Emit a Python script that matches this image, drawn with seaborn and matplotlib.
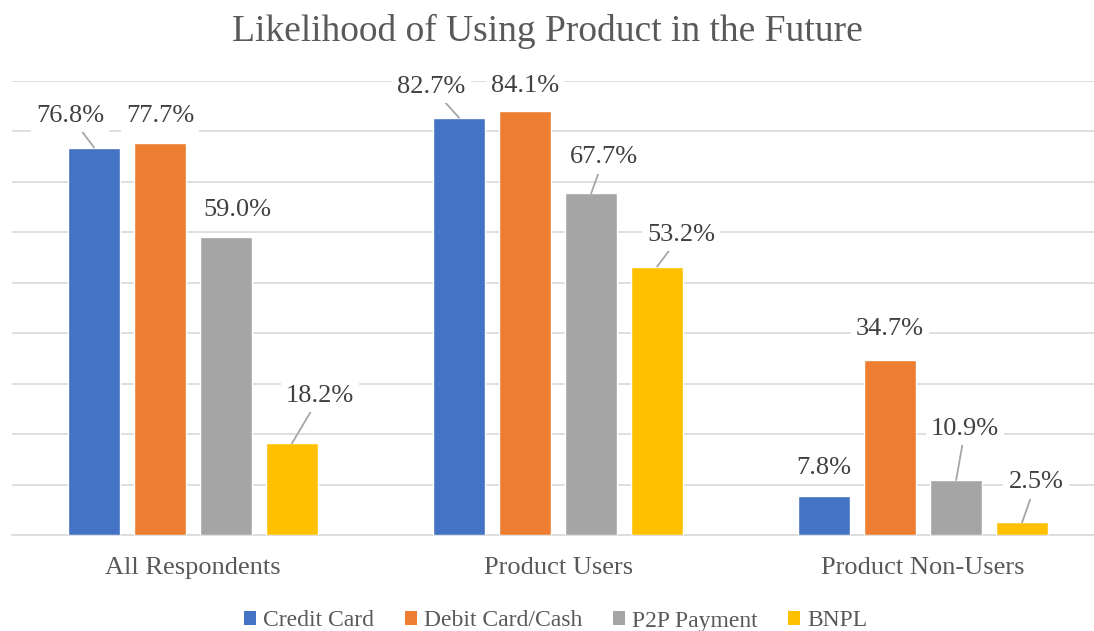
import pandas as pd
import numpy as np
import matplotlib.pyplot as plt
import seaborn as sns
from matplotlib.patches import Patch

# ── DATA ──────────────────────────────────────────────────
groups = ["All Respondents", "Product Users", "Product Non-Users"]
series = ["Credit Card", "Debit Card/Cash", "P2P Payment", "BNPL"]
credit_card = [76.8, 82.7, 7.8]
debit_card_cash = [77.7, 84.1, 34.7]
p2p_payment = [59.0, 67.7, 10.9]
bnpl = [18.2, 53.2, 2.5]

df = pd.DataFrame({
    "group": groups * 4,
    "series": np.repeat(series, 3),
    "value": credit_card + debit_card_cash + p2p_payment + bnpl,
})

# label offsets (pixels, from bar top) and whether Excel drew a leader line
label_offsets = {
    "Credit Card":     [(-24, 32), (-28, 31), (0, 28)],
    "Debit Card/Cash": [(0, 27), (0, 25), (0, 31)],
    "P2P Payment":     [(11, 27), (13, 36), (9, 51)],
    "BNPL":            [(28, 47), (24, 32), (14, 40)],
}
leaders = {
    "Credit Card":     [True, True, False],
    "Debit Card/Cash": [False, False, False],
    "P2P Payment":     [False, True, True],
    "BNPL":            [True, True, True],
}

# ── STYLE ─────────────────────────────────────────────────
colors = ["#4472C4", "#ED7D31", "#A5A5A5", "#FFC000"]
sns.set_theme(style="white")
plt.rcParams["font.family"] = ["Liberation Serif", "DejaVu Serif"]

fig = plt.figure(figsize=(10.94, 6.31), dpi=100)
ax = fig.add_axes([12 / 1094, 96 / 631, 1082 / 1094, 454 / 631])

sns.barplot(data=df, x="group", y="value", hue="series", hue_order=series,
            order=groups, palette=colors, saturation=1, width=0.723, gap=0.215,
            legend=False, ax=ax, zorder=3)

ax.set_ylim(0, 90)
ax.set_xlim(-0.496, 2.468)
ax.set_yticks(np.arange(0, 91, 10))
ax.set_yticklabels([])
ax.yaxis.grid(True, color="#D9D9D9", linewidth=1.2, zorder=0)
ax.set_axisbelow(True)
for s in ["top", "left", "right"]:
    ax.spines[s].set_visible(False)
ax.spines["bottom"].set_color("#D9D9D9")
ax.spines["bottom"].set_linewidth(1.2)
ax.tick_params(axis="both", length=0)
ax.tick_params(axis="x", pad=16, labelsize=19, labelcolor="#595959")
ax.set_xlabel("")
ax.set_ylabel("")

# ── DATA LABELS ───────────────────────────────────────────
for name, cont in zip(series, ax.containers):
    for i, bar in enumerate(cont):
        h = bar.get_height()
        cx = bar.get_x() + bar.get_width() / 2
        dx, dy = label_offsets[name][i]
        arrow = dict(arrowstyle="-", color="#A6A6A6", lw=1.3,
                     shrinkA=0, shrinkB=0) if leaders[name][i] else None
        ax.annotate(f"{h:.1f}%", xy=(cx, h), xytext=(dx, dy),
                    textcoords="offset pixels", ha="center", va="center",
                    fontsize=19, color="#404040",
                    bbox=dict(boxstyle="square,pad=0.2", fc="white", ec="none"),
                    arrowprops=arrow, zorder=4)

fig.suptitle("Likelihood of Using Product in the Future", fontsize=27,
             color="#595959", y=0.978)

handles = [Patch(facecolor=c, edgecolor="none", label=s) for c, s in zip(colors, series)]
fig.legend(handles=handles, loc="center", bbox_to_anchor=(0.508, 1 - 621 / 631),
           ncol=4, frameon=False, fontsize=17, labelcolor="#595959",
           handlelength=0.5, handleheight=0.5, handletextpad=0.3,
           columnspacing=1.3)

plt.savefig("out.png", dpi=100)
